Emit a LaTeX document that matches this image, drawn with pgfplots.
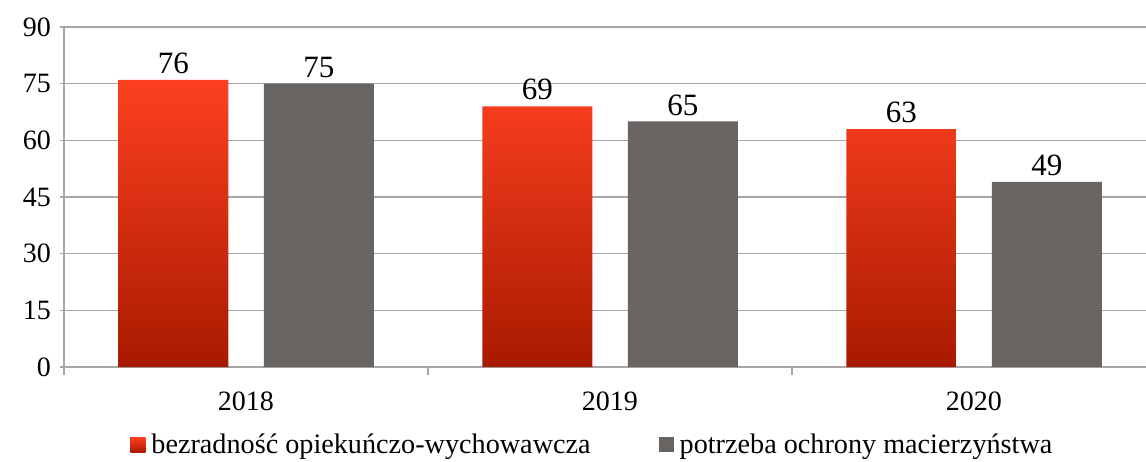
\documentclass[border=0pt]{standalone}
\usepackage{pgfplots}
\pgfplotsset{compat=1.18}
\usepackage{fontspec}
\setmainfont{Liberation Serif}
\definecolor{redtop}{HTML}{FD4020}
\definecolor{redbot}{HTML}{A81A00}
\definecolor{barg}{HTML}{686462}
\definecolor{gridg}{HTML}{A6A6A6}
\begin{document}
\begin{tikzpicture}
\begin{axis}[
  name=ax,
  at={(0,0)}, anchor=south west,
  scale only axis,
  width=541pt, height=170pt,
  xmin=-0.5, xmax=2.473,
  ymin=0, ymax=90,
  ytick={0,15,30,45,60,75,90},
  xtick={0,1,2},
  xticklabels={2018,2019,2020},
  minor xtick={-0.5,0.5,1.5,2.5},
  major x tick style={draw=none},
  minor x tick style={gridg, line width=0.75pt},
  y tick style={gridg, line width=0.75pt},
  tick align=outside,
  major tick length=4pt, minor tick length=4pt,
  axis x line=bottom, axis y line=left,
  axis line style={-, gridg, line width=0.75pt},
  ymajorgrids, grid style={gridg, line width=0.75pt},
  tick label style={font=\fontsize{14}{15}\selectfont, black},
  xticklabel style={yshift=-5pt},
  yticklabel style={xshift=-1pt},
  /pgf/number format/assume math mode=true,
  ybar, bar width=55pt,
  nodes near coords,
  every node near coord/.append style={font=\fontsize{15.5}{16}\selectfont, black, yshift=-0.5pt},
  legend style={at={(0.0555,-0.229)}, anchor=west, draw=none, fill=none,
    legend columns=2, font=\fontsize{14.1}{16}\selectfont,
    /tikz/every odd column/.append style={column sep=1pt},
    /tikz/every even column/.append style={column sep=32pt}},
  legend image code/.code={\fill[#1] (0pt,-3.75pt) rectangle (7.5pt,3.75pt);},
  clip=false,
]
\addplot[draw=none, bar shift=-36.25pt, top color=redtop, bottom color=redbot, shading=axis]
  coordinates {(0,76) (1,69) (2,63)};
\addlegendentry{bezradność opiekuńczo-wychowawcza}
\addplot[draw=none, fill=barg, bar shift=36.5pt]
  coordinates {(0,75) (1,65) (2,49)};
\addlegendentry{potrzeba ochrony macierzyństwa}
\end{axis}
\pgfresetboundingbox
\path (-32pt,-47pt) rectangle (541pt,183.5pt);
\end{tikzpicture}
\end{document}
